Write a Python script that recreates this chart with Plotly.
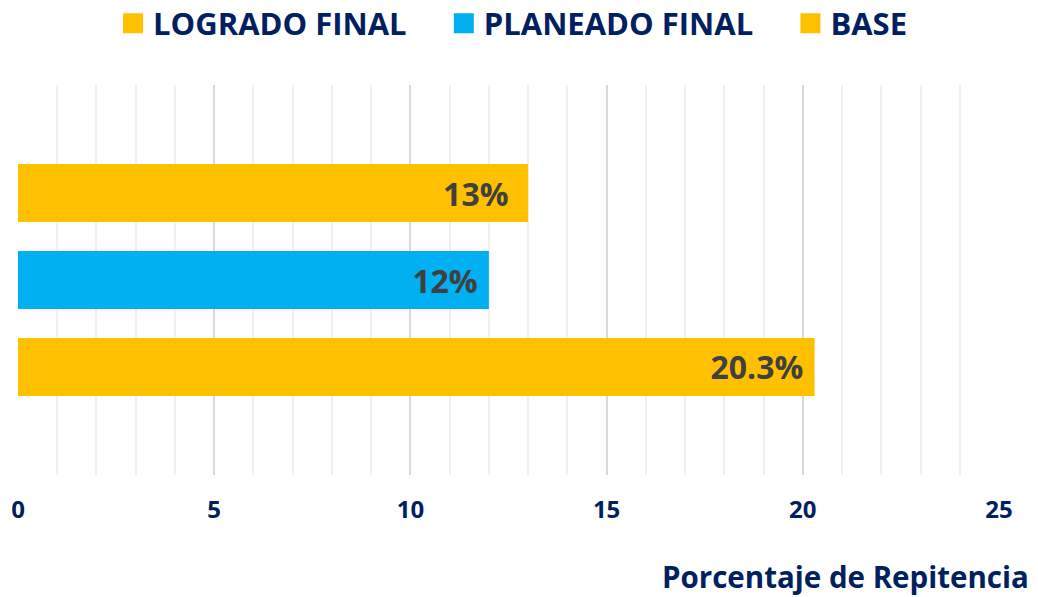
import plotly.graph_objects as go

# bottom-to-top order for the grouped horizontal bars
series = ["BASE", "PLANEADO FINAL", "LOGRADO FINAL"]
values = [20.3, 12, 13]
labels = ["20.3%", "12%", "13%"]
colors = ["#FFC000", "#00B0F0", "#FFC000"]
category = ["Repitencia"]

# legend order (left to right)
legend_names = ["LOGRADO FINAL", "PLANEADO FINAL", "BASE"]
legend_colors = ["#FFC000", "#00B0F0", "#FFC000"]

NAVY = "#002060"
FONT = "Open Sans"
NB = "\u00a0"
label_pad = [1, 1, 2]  # trailing spaces inside bar end (style only)

fig = go.Figure()
for name, v, lab, c, p in zip(series, values, labels, colors, label_pad):
    fig.add_trace(go.Bar(
        y=category, x=[v], name=name, orientation="h", showlegend=False,
        marker=dict(color=c, line=dict(width=0)),
        text=[lab + NB * p], textposition="inside", insidetextanchor="end",
        textfont=dict(family=FONT, size=32, color="#404040", weight="bold"),
    ))

for i, (name, c) in enumerate(zip(legend_names, legend_colors)):
    pad = NB * 4 if i < len(legend_names) - 1 else ""
    fig.add_trace(go.Scatter(
        x=[None], y=[None], name=name + pad, mode="markers",
        marker=dict(symbol="square", size=16, color=c, line=dict(color=c, width=4)),
        showlegend=True, hoverinfo="skip",
    ))

fig.update_layout(
    width=1038, height=597,
    margin=dict(l=18, r=39, t=85, b=122, autoexpand=False),
    paper_bgcolor="white", plot_bgcolor="white",
    barmode="group", bargap=0.331, bargroupgap=0.333,
    showlegend=True,
    legend=dict(orientation="h", traceorder="normal", itemsizing="trace",
                x=0.1089, xref="container", xanchor="left",
                y=0.9606, yref="container", yanchor="middle",
                font=dict(family=FONT, size=31, color=NAVY, weight="bold")),
    xaxis=dict(range=[0, 25], dtick=5, tick0=0, automargin=False,
               showgrid=True, gridcolor="#D9D9D9", gridwidth=1.5,
               minor=dict(dtick=1, showgrid=True, gridcolor="#F0F0F0", gridwidth=1.5),
               zeroline=False, showline=False,
               tickfont=dict(family=FONT, size=24, color=NAVY, weight="bold"),
               ticks="outside", ticklen=13, tickcolor="rgba(0,0,0,0)"),
    yaxis=dict(showticklabels=False, showgrid=False, zeroline=False, showline=False,
               automargin=False),
    annotations=[dict(text="Porcentaje de Repitencia", xref="paper", yref="paper",
                      x=1, xanchor="right", xshift=32, y=0, yanchor="middle", yshift=-101,
                      showarrow=False,
                      font=dict(family=FONT, size=29.5, color=NAVY, weight="bold"))],
)

fig.write_html("out.html",
               config={"displayModeBar": False},
               post_script="document.body.style.margin='0';document.body.style.overflow='hidden';")
